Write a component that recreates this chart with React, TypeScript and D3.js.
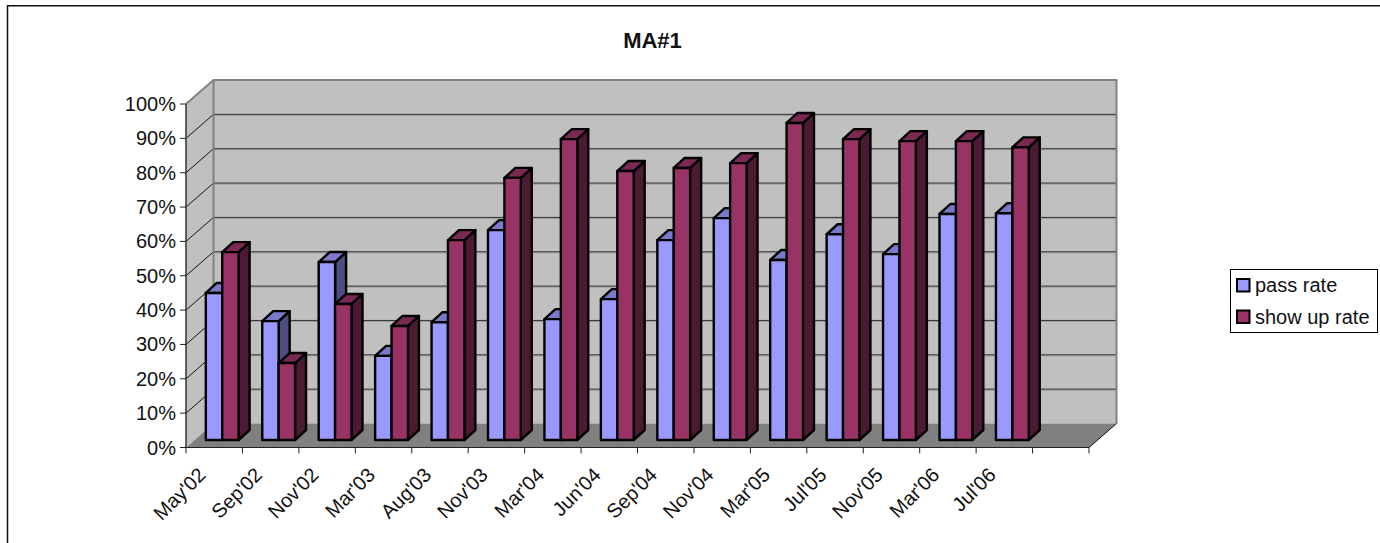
import React from 'react';
import * as d3 from 'd3';

const categories = ["May'02", "Sep'02", "Nov'02", "Mar'03", "Aug'03", "Nov'03", "Mar'04", "Jun'04", "Sep'04", "Nov'04", "Mar'05", "Jul'05", "Nov'05", "Mar'06", "Jul'06", ""];
const passRate = [42.8, 34.6, 51.8, 24.5, 34.3, 61.1, 35.2, 41.0, 58.2, 64.6, 52.4, 59.9, 54.1, 65.8, 66.0];
const showUpRate = [54.7, 22.4, 39.6, 33.2, 58.2, 76.3, 87.6, 78.3, 79.2, 80.6, 92.3, 87.6, 87.0, 87.0, 85.2];
const yTicks = [0, 10, 20, 30, 40, 50, 60, 70, 80, 90, 100];
const seriesNames = ['pass rate', 'show up rate'];

const FONT = '"Liberation Sans", Arial, sans-serif';
const WIDTH = 1380;
const HEIGHT = 543;

// front plane of the box and how far the back wall is pushed
const depthX = 27.5;
const depthY = -24;
// bars sit part way into the box, with their own smaller depth
const barInsetX = 8;
const barInsetY = -7.5;
const barDepthX = 11;
const barDepthY = -10;

const colors = [
    { front: '#9999FF', top: '#7A7ACC', side: '#4D4D80' },
    { front: '#993366', top: '#7A2952', side: '#4D1A33' },
];

const x = d3.scaleBand<string>().domain(categories.map((c, i) => c || `blank${i}`)).range([186, 1089]);
const y = d3.scaleLinear().domain([0, 100]).range([447.5, 104]);

const poly = (pts: [number, number][]) => (d3.line()(pts) as string) + 'Z';

function Bar({ left, width, value, color }: { left: number; width: number; value: number; color: typeof colors[0] }) {
    const x0 = left + barInsetX;
    const x1 = x0 + width;
    const yTop = y(value) + barInsetY;
    const yBase = y(0) + barInsetY;
    return (
        <g stroke="#000" strokeWidth={2.4} strokeLinejoin="round">
            <path d={poly([[x1, yTop], [x1 + barDepthX, yTop + barDepthY], [x1 + barDepthX, yBase + barDepthY], [x1, yBase]])} fill={color.side} />
            <path d={poly([[x0, yTop], [x0 + barDepthX, yTop + barDepthY], [x1 + barDepthX, yTop + barDepthY], [x1, yTop]])} fill={color.top} />
            <rect x={x0} y={yTop} width={width} height={yBase - yTop} fill={color.front} />
        </g>
    );
}

export default function App() {
    const bw = 16.4;
    const y0 = y(0);
    const y100 = y(100);
    const [xMin, xMax] = x.range();
    return (
        <svg width={WIDTH} height={HEIGHT} style={{ position: 'absolute', left: 0, top: 0 }} fontFamily={FONT}>
            <rect width={WIDTH} height={HEIGHT} fill="#fff" />
            <path d="M7.5,543V5.8H1380" fill="none" stroke="#111" strokeWidth={1.5} />

            <text x={652.5} y={48} textAnchor="middle" fontSize={22} fontWeight="bold" fill="#111">MA#1</text>

            {/* walls and floor */}
            <path d={poly([[xMin, y100], [xMin + depthX, y100 + depthY], [xMin + depthX, y0 + depthY], [xMin, y0]])} fill="#C0C0C0" />
            <rect x={xMin + depthX} y={y100 + depthY} width={xMax - xMin} height={y0 - y100} fill="#C0C0C0" />
            <path d={poly([[xMin, y0], [xMin + depthX, y0 + depthY], [xMax + depthX, y0 + depthY], [xMax, y0]])} fill="#808080" />

            {yTicks.slice(1, -1).map(t => (
                <g key={t}>
                    <line x1={xMin + depthX} x2={xMax + depthX} y1={y(t) + depthY + 1} y2={y(t) + depthY + 1} stroke="#999" strokeWidth={1} />
                    <line x1={xMin + depthX} x2={xMax + depthX} y1={y(t) + depthY} y2={y(t) + depthY} stroke="#333" strokeWidth={1} />
                    <line x1={xMin} x2={xMin + depthX} y1={y(t)} y2={y(t) + depthY} stroke="#111" strokeWidth={1} />
                </g>
            ))}

            {/* wall outline */}
            <path d={d3.line()([[xMin, y100], [xMin + depthX, y100 + depthY], [xMax + depthX, y100 + depthY], [xMax + depthX, y0 + depthY]]) as string} fill="none" stroke="#808080" strokeWidth={2} />
            <line x1={xMin + depthX} x2={xMin + depthX} y1={y100 + depthY} y2={y0 + depthY} stroke="#808080" strokeWidth={2} />
            <line x1={xMax + depthX} x2={xMax} y1={y0 + depthY} y2={y0} stroke="#111" strokeWidth={1} />

            {/* bars */}
            {passRate.map((v, i) => {
                const left = (x(x.domain()[i]) as number) + (x.bandwidth() - 2 * bw) / 2;
                return (
                    <g key={categories[i]}>
                        <Bar left={left} width={bw} value={v} color={colors[0]} />
                        <Bar left={left + bw} width={bw} value={showUpRate[i]} color={colors[1]} />
                    </g>
                );
            })}

            {/* value axis */}
            <line x1={xMin} x2={xMin} y1={y100} y2={y0} stroke="#333" strokeWidth={1.5} />
            {yTicks.map(t => (
                <g key={t}>
                    <line x1={xMin - 6} x2={xMin} y1={y(t)} y2={y(t)} stroke="#222" strokeWidth={1} />
                    <text x={xMin - 10} y={y(t) + 7} textAnchor="end" fontSize={20} fill="#111">{t}%</text>
                </g>
            ))}

            {/* category axis */}
            <line x1={xMin} x2={xMax} y1={y0} y2={y0} stroke="#222" strokeWidth={1.2} />
            {x.domain().concat('end').map((d, i) => {
                const tx = xMin + i * x.step();
                return <line key={d} x1={tx} x2={tx} y1={y0} y2={y0 + 6} stroke="#222" strokeWidth={1} />;
            })}
            {categories.filter(Boolean).map((c, i) => {
                const cx = (x(x.domain()[i]) as number) + x.bandwidth() / 2 - 11;
                return (
                    <text key={c} transform={`translate(${cx},${y0 + 25}) rotate(-45)`} textAnchor="end" dominantBaseline="middle" fontSize={20} fill="#111">{c}</text>
                );
            })}

            {/* legend */}
            <rect x={1230.5} y={269.5} width={147} height={63} fill="#fff" stroke="#000" strokeWidth={1} />
            {seriesNames.map((name, i) => (
                <g key={name} transform={`translate(0,${i * 31.5})`}>
                    <rect x={1237} y={279} width={12.5} height={12.5} fill={colors[i].front} stroke="#000" strokeWidth={2} />
                    <text x={1255} y={292} fontSize={20} fill="#111">{name}</text>
                </g>
            ))}
        </svg>
    );
}
